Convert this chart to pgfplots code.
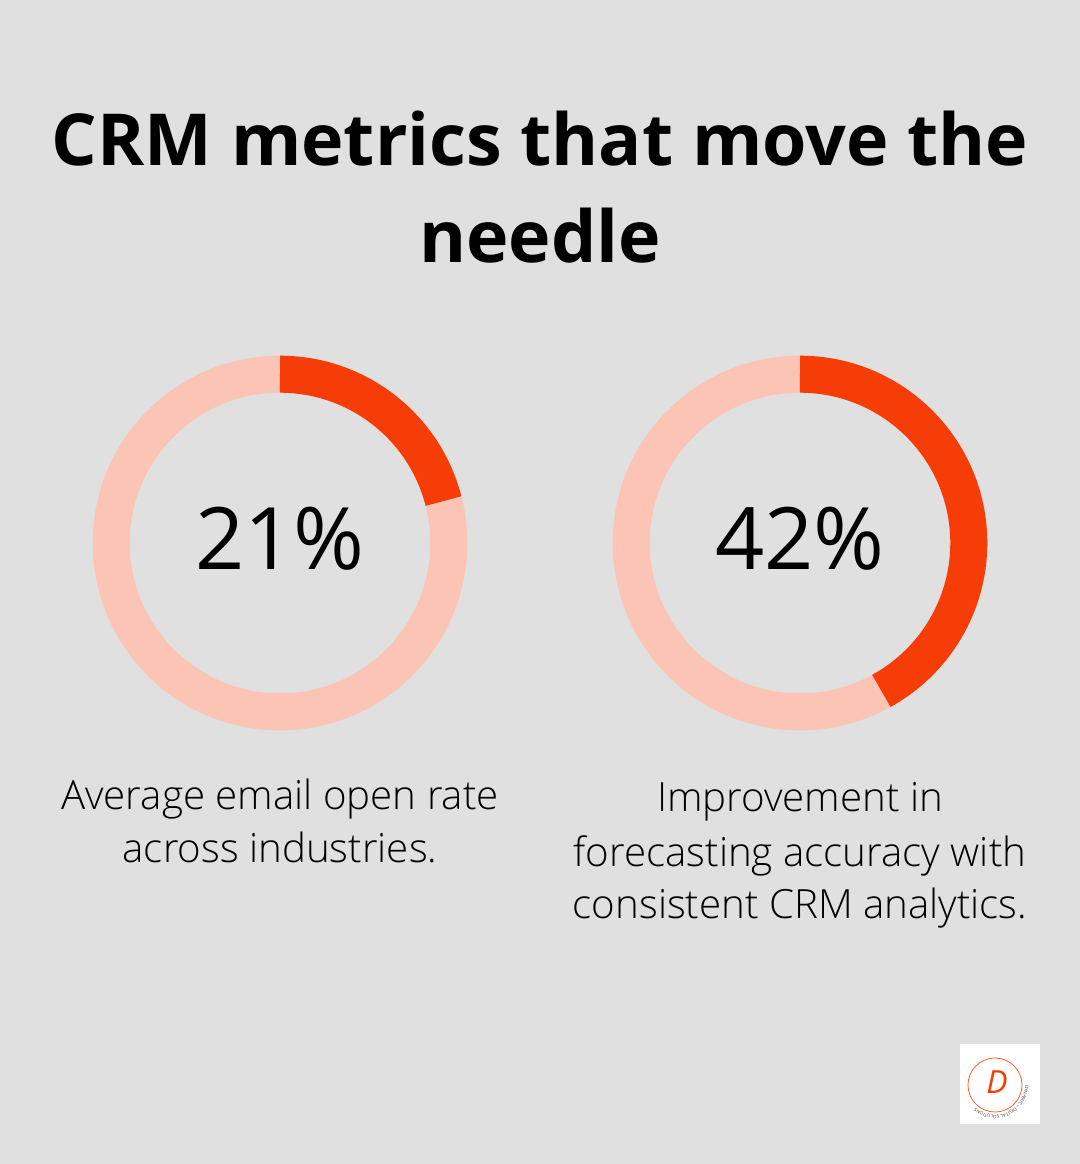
\documentclass[border=0pt]{standalone}
\usepackage{pgfplots}
\pgfplotsset{compat=1.18}
\usetikzlibrary{decorations.text}
\usepackage{fontspec}
\setmainfont{Open Sans}
\newfontfamily\titlefont{Open Sans}[UprightFont=* Bold]
\def\bodysize{\fontsize{40.4}{53}\selectfont}
\IfFontExistsTF{OpenSans-Light.ttf}{%
  \newfontfamily\lightfont{OpenSans-Light.ttf}\def\bodysize{\fontsize{40.4}{53}\selectfont}}{%
  \IfFontExistsTF{OpenSans-Light.otf}{%
    \newfontfamily\lightfont{OpenSans-Light.otf}\def\bodysize{\fontsize{40.4}{53}\selectfont}}{%
    \newfontfamily\lightfont{Open Sans}}}
\definecolor{bg}{HTML}{DFE0DF}
\definecolor{dark}{HTML}{F63D07}
\definecolor{lite}{HTML}{FBC4B4}
\begin{document}
\begin{tikzpicture}
\begin{axis}[
  width=1080bp, height=1164bp, scale only axis,
  xmin=0, xmax=1080, ymin=0, ymax=1164, y dir=reverse,
  hide axis, clip=false]
\fill[bg] (axis cs:0,0) rectangle (axis cs:1080,1164);
% donut 1: 21
\draw[lite, line width=37bp] (axis cs:280,543) circle[radius=168.8bp];
\draw[dark, line width=37bp] (axis cs:280,374.2) arc[start angle=90, delta angle={-21*3.6}, radius=168.8bp];
% donut 2: 42
\draw[lite, line width=37bp] (axis cs:800,543) circle[radius=168.8bp];
\draw[dark, line width=37bp] (axis cs:800,374.2) arc[start angle=90, delta angle={-42*3.6}, radius=168.8bp];
\node[anchor=base, font=\fontsize{86.5}{100}\selectfont] at (axis cs:280,569) {21\%};
\node[anchor=base, font=\fontsize{86.5}{100}\selectfont] at (axis cs:800,569) {42\%};
\node[anchor=base, font=\titlefont\fontsize{72}{97}\selectfont] at (axis cs:540,166) {CRM metrics that move the};
\node[anchor=base, font=\titlefont\fontsize{72}{97}\selectfont] at (axis cs:540,262.7) {needle};
\node[anchor=base, font=\lightfont\bodysize] at (axis cs:280,809) {Average email open rate};
\node[anchor=base, font=\lightfont\bodysize] at (axis cs:280,862) {across industries.};
\node[anchor=base, font=\lightfont\bodysize] at (axis cs:800,811.7) {Improvement in};
\node[anchor=base, font=\lightfont\bodysize] at (axis cs:800,866) {forecasting accuracy with};
\node[anchor=base, font=\lightfont\bodysize] at (axis cs:800,918) {consistent CRM analytics.};
% logo
\fill[white] (axis cs:960,1044) rectangle (axis cs:1040,1124);
\draw[dark!80, line width=0.8bp] (axis cs:995,1085) circle[radius=27bp];
\node[dark, font=\itshape\fontsize{32}{32}\selectfont] at (axis cs:997,1082) {D};
\path[decorate, decoration={text along path, text align=center,
  text={|\fontsize{4.6}{5}\selectfont\color{black!75}|DYNAMIC {\textbullet} DIGITAL SOLUTIONS}}]
  (axis cs:995,1085) ++(70:30bp) arc[start angle=70, end angle=-200, radius=30bp];
\end{axis}
\end{tikzpicture}
\end{document}
